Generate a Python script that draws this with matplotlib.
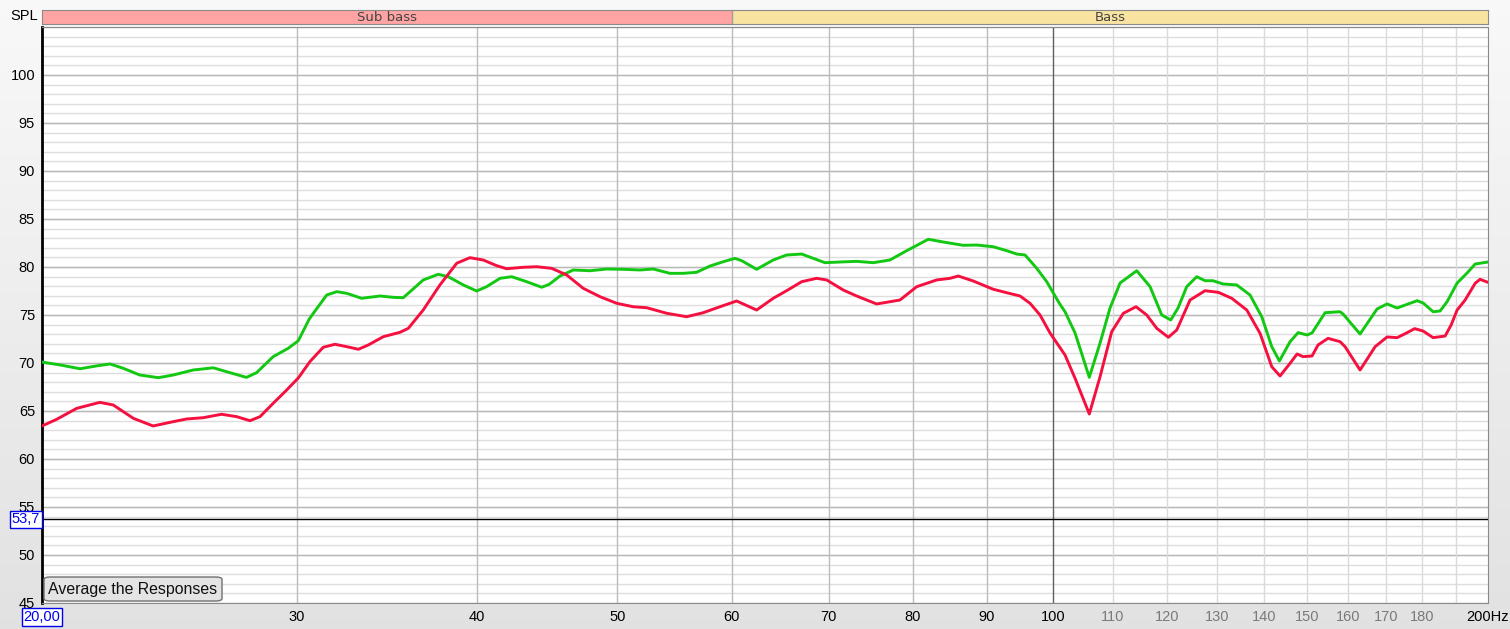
import numpy as np
import matplotlib
matplotlib.use("Agg")
import matplotlib.pyplot as plt
import matplotlib.transforms as mtransforms
from matplotlib.patches import FancyBboxPatch

# frequency response, green trace
freq_green = [20.0, 20.58, 21.25, 21.82, 22.29, 22.76, 23.37, 24.07, 24.65, 25.44,
              26.27, 26.98, 27.70, 28.15, 28.90, 29.60, 30.08, 30.61, 30.81, 31.47,
              31.98, 32.49, 33.27, 34.26, 34.99, 35.55, 35.94, 36.70, 37.59, 38.19,
              39.12, 39.96, 40.60, 41.47, 42.25, 43.27, 44.32, 44.86, 45.63, 46.61,
              47.86, 49.15, 50.47, 51.82, 52.94, 54.36, 55.52, 56.72, 57.94, 59.18,
              60.29, 60.94, 62.41, 64.08, 65.46, 67.05, 68.30, 69.58, 71.26, 73.18,
              75.14, 77.17, 79.26, 82.03, 84.01, 86.73, 88.60, 90.97, 92.94, 94.43,
              95.69, 97.49, 99.05, 101.06, 101.98, 103.62, 106.0, 107.83, 109.56, 111.32,
              114.32, 116.77, 118.96, 120.68, 122.09, 123.79, 125.78, 127.46, 129.09, 131.16,
              134.05, 136.92, 139.50, 141.74, 143.47, 145.93, 147.80, 149.94, 151.13, 154.30,
              158.03, 158.78, 163.14, 167.62, 170.31, 173.05, 178.65, 180.37, 183.26, 185.32,
              187.40, 190.41, 193.47, 195.95, 200.0]
spl_green = [70.1, 69.8, 69.4, 69.7, 69.9, 69.45, 68.75, 68.47, 68.75, 69.27,
             69.5, 68.99, 68.5, 69.0, 70.66, 71.53, 72.32, 74.58, 75.18, 77.08,
             77.43, 77.26, 76.74, 76.98, 76.84, 76.8, 77.43, 78.65, 79.24, 78.99,
             78.13, 77.5, 77.95, 78.82, 78.99, 78.47, 77.89, 78.2, 79.06, 79.69,
             79.61, 79.79, 79.76, 79.69, 79.79, 79.34, 79.34, 79.45, 80.1, 80.55,
             80.9, 80.66, 79.76, 80.73, 81.25, 81.35, 80.9, 80.45, 80.52, 80.59,
             80.45, 80.73, 81.7, 82.89, 82.6, 82.26, 82.29, 82.11, 81.7, 81.35,
             81.25, 79.86, 78.47, 76.22, 75.34, 73.13, 68.51, 72.08, 75.73, 78.33,
             79.61, 77.95, 75.0, 74.48, 75.73, 77.95, 78.99, 78.57, 78.57, 78.23,
             78.13, 77.08, 74.82, 71.7, 70.21, 72.22, 73.16, 72.92, 73.13, 75.24,
             75.34, 75.1, 73.02, 75.63, 76.15, 75.73, 76.49, 76.25, 75.34, 75.42,
             76.39, 78.33, 79.38, 80.31, 80.52]

# frequency response, red trace
freq_red = [20.0, 20.47, 21.14, 21.93, 22.40, 23.13, 23.87, 24.65, 25.18, 25.85,
            26.62, 27.27, 27.85, 28.30, 28.90, 29.53, 30.08, 30.64, 31.30, 31.89,
            32.49, 33.10, 33.63, 34.44, 35.37, 35.84, 36.70, 37.69, 38.71, 39.53,
            40.38, 41.25, 41.91, 43.04, 43.97, 45.03, 46.12, 47.35, 48.63, 49.94,
            51.27, 52.38, 54.08, 55.83, 57.32, 58.87, 60.45, 62.41, 64.08, 65.46,
            67.05, 68.67, 69.77, 71.64, 73.18, 75.55, 78.41, 80.53, 83.13, 84.91,
            86.04, 88.12, 90.97, 92.94, 94.93, 96.45, 98.0, 99.57, 101.98, 103.62,
            106.0, 107.83, 109.85, 111.91, 114.19, 116.15, 118.02, 120.22, 121.84, 124.44,
            127.46, 130.19, 132.99, 136.21, 139.12, 141.74, 143.62, 145.93, 147.57, 148.98,
            151.13, 152.58, 155.03, 158.03, 159.29, 163.14, 167.10, 170.31, 173.05, 175.69,
            177.94, 180.37, 183.26, 186.80, 188.60, 190.41, 192.85, 195.95, 197.47, 200.0]
spl_red = [63.44, 64.13, 65.28, 65.9, 65.63, 64.24, 63.44, 63.89, 64.17, 64.3,
           64.66, 64.41, 63.99, 64.41, 65.8, 67.19, 68.44, 70.14, 71.64, 71.95,
           71.7, 71.43, 71.88, 72.74, 73.2, 73.61, 75.52, 78.13, 80.39, 80.97,
           80.73, 80.14, 79.82, 79.97, 80.03, 79.86, 79.17, 77.78, 76.91, 76.22,
           75.86, 75.76, 75.18, 74.82, 75.24, 75.86, 76.46, 75.52, 76.74, 77.53,
           78.47, 78.82, 78.65, 77.6, 76.98, 76.15, 76.56, 77.95, 78.65, 78.82,
           79.06, 78.54, 77.68, 77.32, 76.98, 76.22, 75.0, 73.13, 70.83, 68.41,
           64.69, 68.57, 73.26, 75.18, 75.86, 75.0, 73.61, 72.68, 73.44, 76.56,
           77.53, 77.36, 76.74, 75.52, 73.09, 69.61, 68.65, 69.97, 70.94, 70.66,
           70.73, 71.88, 72.57, 72.22, 71.7, 69.27, 71.7, 72.71, 72.64, 73.13,
           73.58, 73.33, 72.64, 72.81, 73.96, 75.52, 76.56, 78.3, 78.72, 78.4]

x_ticks = [20, 30, 40, 50, 60, 70, 80, 90, 100, 110, 120, 130, 140, 150, 160, 170, 180, 200]
x_labels = ["20,00", "30", "40", "50", "60", "70", "80", "90", "100",
            "110", "120", "130", "140", "150", "160", "170", "180", "200Hz"]
y_ticks = [45, 50, 55, 60, 65, 70, 75, 80, 85, 90, 95, 100]
cursor_level = 53.7
bands = [("Sub bass", 20, 60, "#ffa3a3"), ("Bass", 60, 200, "#f9e3a0")]

W, H = 1510, 629
fig = plt.figure(figsize=(W / 100, H / 100), dpi=100)
plt.rcParams['font.family'] = ['Liberation Sans', 'DejaVu Sans']

# background gradient
bg = fig.add_axes([0, 0, 1, 1], zorder=-10)
grad = np.linspace(0.975, 0.885, 256).reshape(-1, 1)
bg.imshow(np.dstack([grad, grad, grad]), aspect='auto', extent=[0, 1, 0, 1])
bg.axis('off')

L, R, T, B = 42, 1488, 27, 603
ax = fig.add_axes([L / W, 1 - B / H, (R - L) / W, (B - T) / H])
ax.set_facecolor('white')
ax.set_xscale('log')
ax.set_xlim(20, 200)
ax.set_ylim(45, 105)

# grid
ax.hlines(np.arange(46, 105, 1), 20, 200, colors='#dedede', lw=1, zorder=1)
ax.hlines(np.arange(45, 106, 5), 20, 200, colors='#b8b8b8', lw=1, zorder=1)
ax.vlines([30, 40, 50, 60, 70, 80, 90], 45, 105, colors='#bcbcbc', lw=1, zorder=1)
ax.vlines([110, 120, 130, 140, 150, 160, 170, 180, 190], 45, 105, colors='#dadada', lw=1, zorder=1)
ax.vlines([100], 45, 105, colors='#606060', lw=1, zorder=1)

ax.axhline(cursor_level, color='black', lw=1, zorder=3)

ax.plot(freq_green, spl_green, color='#12c812', lw=2.1, zorder=4,
        solid_joinstyle='round', solid_capstyle='round')
ax.plot(freq_red, spl_red, color='#f5103f', lw=2.1, zorder=5,
        solid_joinstyle='round', solid_capstyle='round')

ax.set_xticks(x_ticks)
ax.set_xticklabels(x_labels)
ax.xaxis.set_minor_locator(plt.NullLocator())
ax.set_yticks(y_ticks)
ax.tick_params(length=0, labelsize=10.5)
ax.tick_params(axis='x', pad=5)
ax.tick_params(axis='y', pad=5)
for t, lab in zip(ax.get_xticklabels(), x_labels):
    if lab in ("110", "120", "130", "140", "150", "160", "170", "180"):
        t.set_color('#7a7a7a')
first = ax.get_xticklabels()[0]
first.set_color('#0000ee')
first.set_bbox(dict(boxstyle='square,pad=0.12', fc='white', ec='#0000ee', lw=1))
first.set_zorder(10)

for side in ('top', 'right', 'bottom'):
    ax.spines[side].set_color('#8a8a8a')
ax.spines['left'].set_color('black')
ax.spines['left'].set_linewidth(2)

trans = mtransforms.blended_transform_factory(ax.transAxes, ax.transData)
ax.text(-0.0015, cursor_level, "53,7", transform=trans, ha='right', va='center',
        fontsize=10.5, color='#0000ee',
        bbox=dict(boxstyle='square,pad=0.12', fc='white', ec='#0000ee', lw=1))

# button
btn = FancyBboxPatch((44 / W, 1 - 601 / H), 178 / W, 24 / H,
                     boxstyle='round,pad=0,rounding_size=0.004',
                     transform=fig.transFigure, fc='#e4e4e4', ec='#707070', lw=1, zorder=20)
fig.patches.append(btn)
fig.text(133 / W, 1 - 589.5 / H, "Average the Responses", ha='center', va='center',
         fontsize=11.4, color='#111111', zorder=21)

fig.text(24 / W, 1 - 16 / H, "SPL", ha='center', va='center', fontsize=10.5)

# band strip
band = fig.add_axes([L / W, 1 - 24 / H, (R - L) / W, 14 / H])
band.set_xscale('log')
band.set_xlim(20, 200)
band.set_ylim(0, 1)
for name, lo, hi, col in bands:
    band.axvspan(lo, hi, color=col, lw=0)
    band.text(np.sqrt(lo * hi), 0.45, name, ha='center', va='center',
              fontsize=9.5, color='#444444', family=['DejaVu Sans'])
band.axvline(60, color='#a0a0a0', lw=1)
band.set_xticks([])
band.set_yticks([])
band.xaxis.set_minor_locator(plt.NullLocator())
for s in band.spines.values():
    s.set_color('#8a8a8a')

fig.savefig("out.png", dpi=100)
